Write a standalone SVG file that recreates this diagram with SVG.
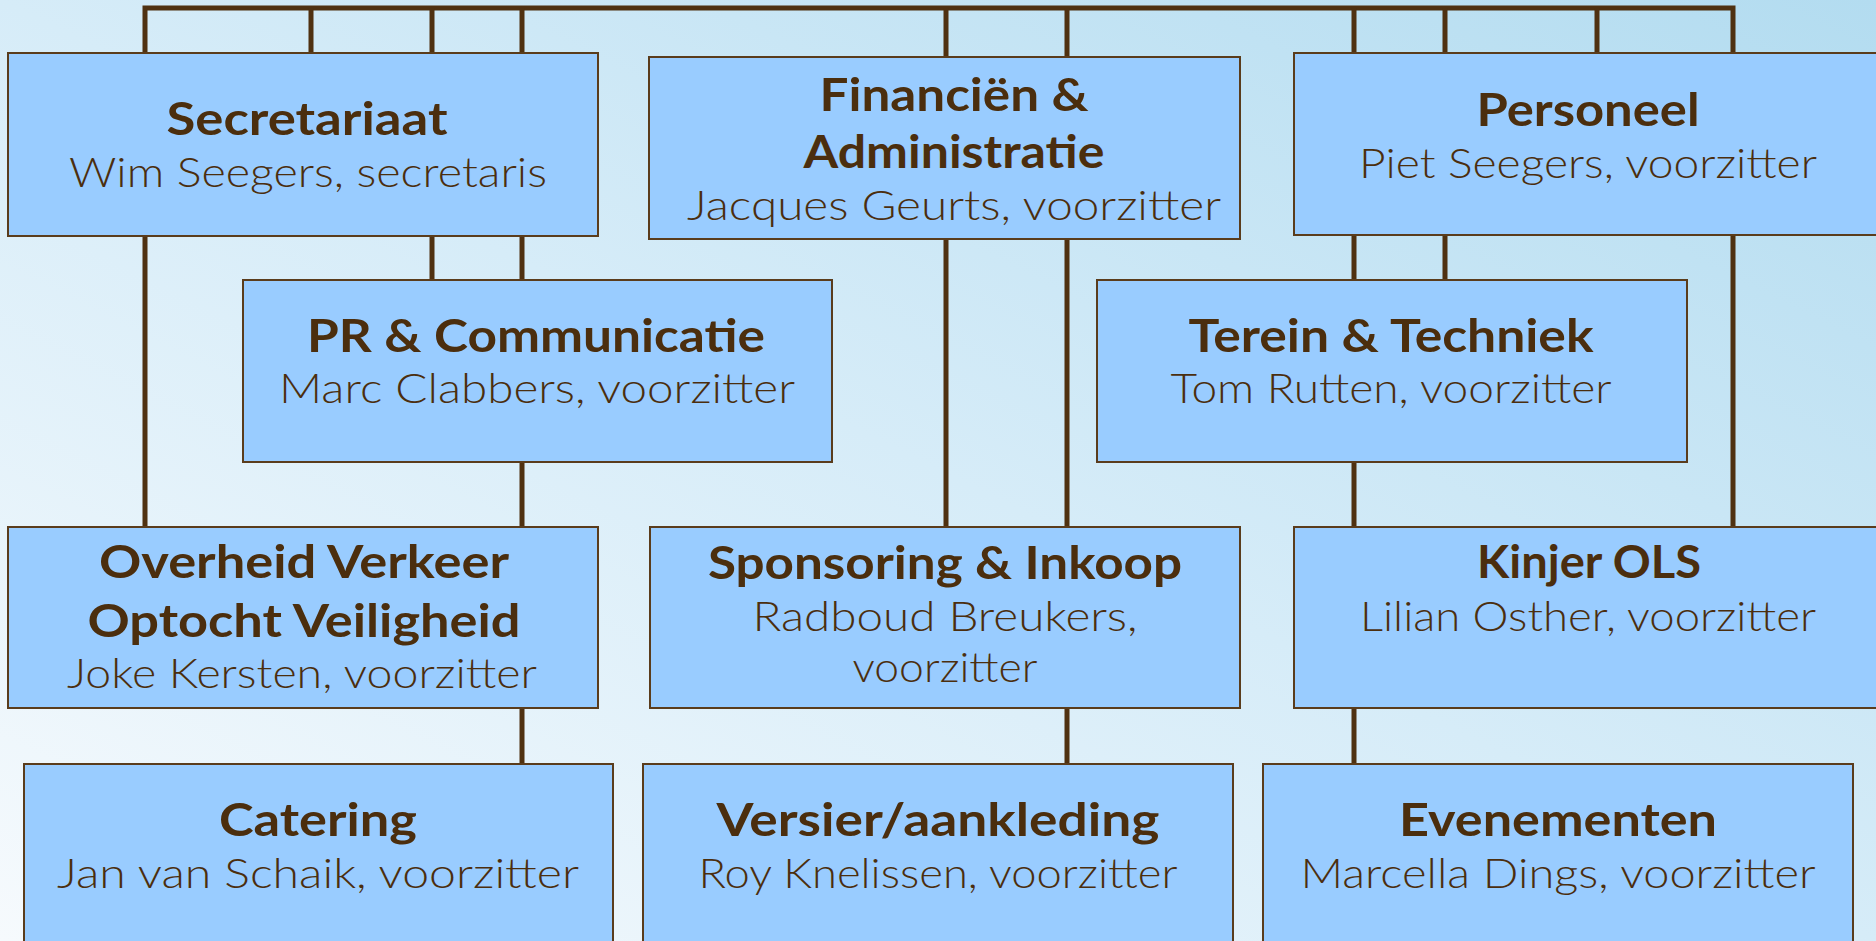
<svg xmlns="http://www.w3.org/2000/svg" width="1876" height="941" viewBox="0 0 1876 941">
<defs>
<linearGradient id="bg" x1="1" y1="0" x2="0" y2="1">
<stop offset="0" stop-color="#B3DCF0"/>
<stop offset="0.5" stop-color="#D6ECF8"/>
<stop offset="1" stop-color="#F6FAFD"/>
</linearGradient>
<style>
.box{fill:#99CCFF;stroke:#5A3C1C;stroke-width:2}
.t{font-family:Lato,"Liberation Sans",sans-serif;font-weight:700;font-size:46px;fill:#4B2E0E;text-anchor:middle}
.s{font-family:Lato,"Liberation Sans",sans-serif;font-weight:300;font-size:41px;fill:#4B2E0E;text-anchor:middle}
.c{fill:none;stroke:#4F3111;stroke-width:5;stroke-linejoin:miter}
</style>
</defs>
<rect x="0" y="0" width="1876" height="941" fill="url(#bg)"/>
<g id="connectors" class="c">
<path d="M145,527 V8 H1733 V527"/>
<path d="M311,8 V53"/>
<path d="M432,8 V280"/>
<path d="M522,8 V764"/>
<path d="M946,8 V527"/>
<path d="M1067,8 V764"/>
<path d="M1354,8 V764"/>
<path d="M1445,8 V280"/>
<path d="M1597,8 V53"/>
</g>
<g id="secretariaat">
<rect class="box" x="8" y="53" width="590" height="183"/>
<text class="t" x="307" y="135" textLength="281" lengthAdjust="spacingAndGlyphs">Secretariaat</text>
<text class="s" x="308" y="187" textLength="478" lengthAdjust="spacingAndGlyphs">Wim Seegers, secretaris</text>
</g>
<g id="financien">
<rect class="box" x="649" y="57" width="591" height="182"/>
<text class="t" x="954" y="111" textLength="269" lengthAdjust="spacingAndGlyphs">Financiën &amp;</text>
<text class="t" x="954" y="168" textLength="301" lengthAdjust="spacingAndGlyphs">Administratie</text>
<text class="s" x="954" y="220" textLength="534" lengthAdjust="spacingAndGlyphs">Jacques Geurts, voorzitter</text>
</g>
<g id="personeel">
<rect class="box" x="1294" y="53" width="592" height="182"/>
<text class="t" x="1588" y="126" textLength="223" lengthAdjust="spacingAndGlyphs">Personeel</text>
<text class="s" x="1588" y="178" textLength="458" lengthAdjust="spacingAndGlyphs">Piet Seegers, voorzitter</text>
</g>
<g id="pr">
<rect class="box" x="243" y="280" width="589" height="182"/>
<text class="t" x="536" y="352" textLength="458" lengthAdjust="spacingAndGlyphs">PR &amp; Communicatie</text>
<text class="s" x="537" y="403" textLength="516" lengthAdjust="spacingAndGlyphs">Marc Clabbers, voorzitter</text>
</g>
<g id="terein">
<rect class="box" x="1097" y="280" width="590" height="182"/>
<text class="t" x="1391" y="352" textLength="405" lengthAdjust="spacingAndGlyphs">Terein &amp; Techniek</text>
<text class="s" x="1391" y="403" textLength="441" lengthAdjust="spacingAndGlyphs">Tom Rutten, voorzitter</text>
</g>
<g id="overheid">
<rect class="box" x="8" y="527" width="590" height="181"/>
<text class="t" x="304" y="578" textLength="410" lengthAdjust="spacingAndGlyphs">Overheid Verkeer</text>
<text class="t" x="304" y="637" textLength="433" lengthAdjust="spacingAndGlyphs">Optocht Veiligheid</text>
<text class="s" x="302" y="688" textLength="470" lengthAdjust="spacingAndGlyphs">Joke Kersten, voorzitter</text>
</g>
<g id="sponsoring">
<rect class="box" x="650" y="527" width="590" height="181"/>
<text class="t" x="945" y="579" textLength="474" lengthAdjust="spacingAndGlyphs">Sponsoring &amp; Inkoop</text>
<text class="s" x="945" y="631" textLength="385" lengthAdjust="spacingAndGlyphs">Radboud Breukers,</text>
<text class="s" x="945" y="682" textLength="185" lengthAdjust="spacingAndGlyphs">voorzitter</text>
</g>
<g id="kinjer">
<rect class="box" x="1294" y="527" width="592" height="181"/>
<text class="t" x="1589" y="578" textLength="224" lengthAdjust="spacingAndGlyphs">Kinjer OLS</text>
<text class="s" x="1588" y="631" textLength="456" lengthAdjust="spacingAndGlyphs">Lilian Osther, voorzitter</text>
</g>
<g id="catering">
<rect class="box" x="24" y="764" width="589" height="190"/>
<text class="t" x="318" y="836" textLength="198" lengthAdjust="spacingAndGlyphs">Catering</text>
<text class="s" x="318" y="888" textLength="522" lengthAdjust="spacingAndGlyphs">Jan van Schaik, voorzitter</text>
</g>
<g id="versier">
<rect class="box" x="643" y="764" width="590" height="190"/>
<text class="t" x="938" y="836" textLength="443" lengthAdjust="spacingAndGlyphs">Versier/aankleding</text>
<text class="s" x="938" y="888" textLength="479" lengthAdjust="spacingAndGlyphs">Roy Knelissen, voorzitter</text>
</g>
<g id="evenementen">
<rect class="box" x="1263" y="764" width="590" height="190"/>
<text class="t" x="1558" y="836" textLength="318" lengthAdjust="spacingAndGlyphs">Evenementen</text>
<text class="s" x="1558" y="888" textLength="515" lengthAdjust="spacingAndGlyphs">Marcella Dings, voorzitter</text>
</g>
</svg>
